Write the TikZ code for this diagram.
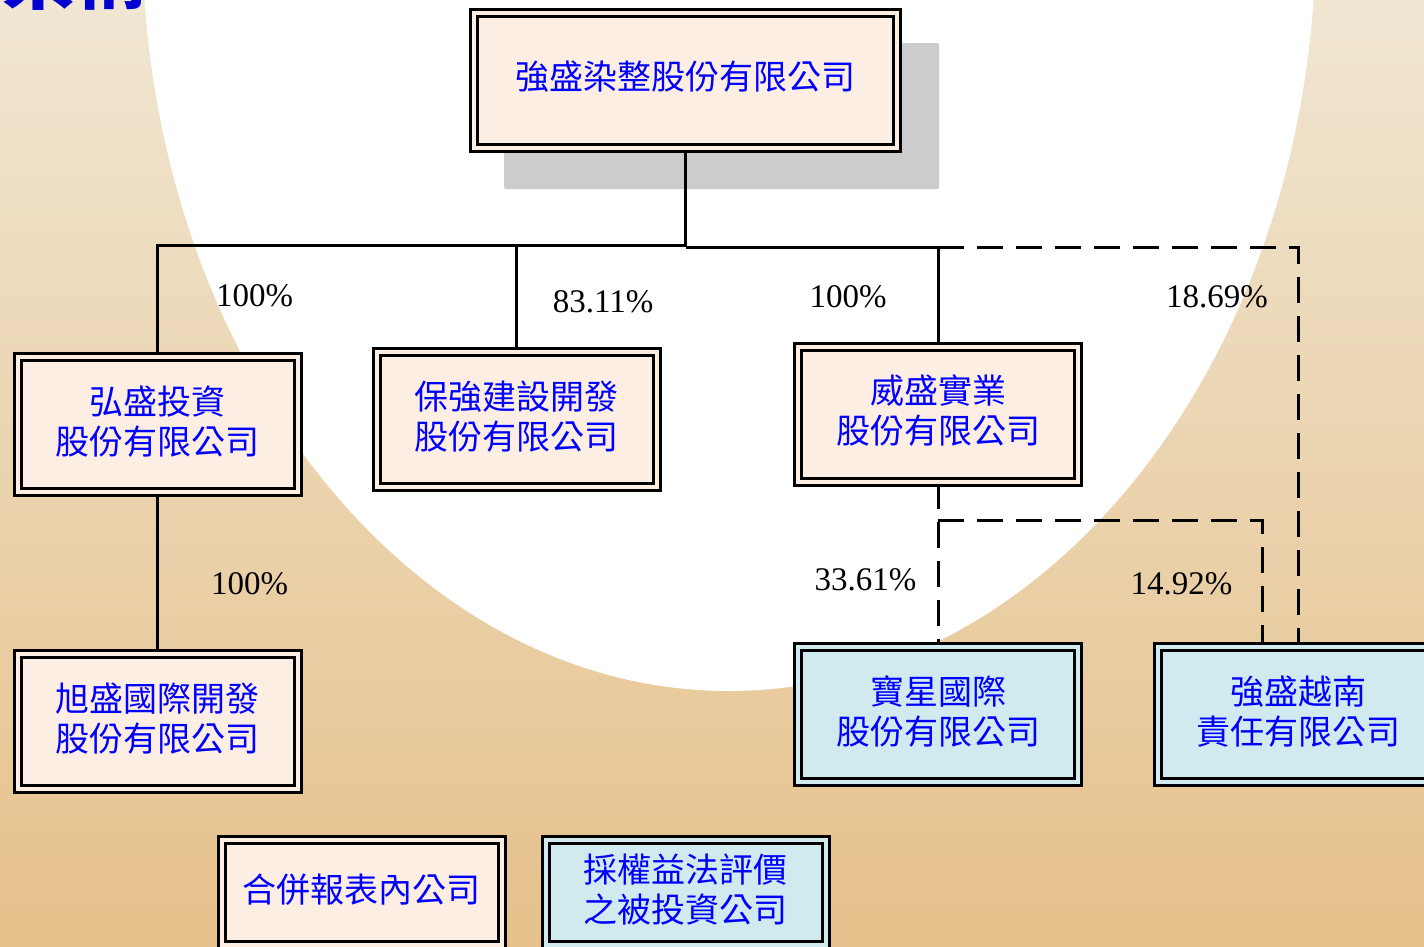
\documentclass[tikz,border=0pt]{standalone}
\usepackage{fontspec}
\setmainfont{Liberation Serif}
\newfontfamily\cjk{Noto Sans CJK TC}
\pgfdeclarelayer{back}
\pgfdeclarelayer{edges}
\pgfsetlayers{back,edges,main}
\definecolor{peach}{RGB}{253,238,227}
\definecolor{lblue}{RGB}{209,234,240}
\definecolor{bgtop}{RGB}{240,230,210}
\definecolor{bgbot}{RGB}{230,193,139}
\definecolor{shadowgray}{RGB}{204,204,204}
\definecolor{titleblue}{RGB}{0,0,210}
\begin{document}
\begin{tikzpicture}[x=1pt,y=-1pt,
  orgbox/.style={draw=black, line width=3pt, double distance=4pt, rectangle,
    minimum width=280pt, minimum height=135pt, inner sep=0pt},
  peachbox/.style={orgbox, fill=peach, double=peach},
  bluebox/.style={orgbox, fill=lblue, double=lblue},
  boxtext/.style={inner sep=0pt, align=center, text=blue,
    font=\cjk\fontsize{34}{40}\selectfont},
  conn/.style={line width=3pt, line join=miter},
  dconn/.style={conn, dash pattern=on 26pt off 13pt},
  pct/.style={anchor=base, font=\fontsize{33}{33}\selectfont, text=black, inner sep=0pt}]
\useasboundingbox (0,0) rectangle (1424,946);

% boxes
\node[peachbox, minimum width=423pt] (top) at (685.5,80.5) {};
\node[peachbox] (hs) at (157.5,424.5) {};
\node[peachbox] (bq) at (516.5,419.5) {};
\node[peachbox] (ww) at (938,414) {};
\node[peachbox] (xs) at (157.5,721.5) {};
\node[bluebox] (bx) at (938,714.5) {};
\node[bluebox] (vn) at (1298,714.5) {};
\node[peachbox, minimum height=105pt] (lg1) at (361.5,892.5) {};
\node[bluebox, minimum height=105pt] (lg2) at (685.5,892.5) {};

% box texts
\node[boxtext] (topt) at ([yshift=3.5pt]top.center) {強盛染整股份有限公司};
\node[boxtext] (hst) at ([yshift=3pt]hs.center) {弘盛投資\\股份有限公司};
\node[boxtext] (bqt) at ([yshift=3pt]bq.center) {保強建設開發\\股份有限公司};
\node[boxtext] (wwt) at ([yshift=3pt]ww.center) {威盛實業\\股份有限公司};
\node[boxtext] (xst) at ([yshift=3pt]xs.center) {旭盛國際開發\\股份有限公司};
\node[boxtext] (bxt) at ([yshift=3pt]bx.center) {寶星國際\\股份有限公司};
\node[boxtext] (vnt) at ([yshift=3pt]vn.center) {強盛越南\\責任有限公司};
\node[boxtext] (lg1t) at ([yshift=2.5pt]lg1.center) {合併報表內公司};
\node[boxtext] (lg2t) at ([yshift=3pt]lg2.center) {採權益法評價\\之被投資公司};

% title (cut off at top in the reference)
\node[anchor=base east, inner sep=0pt, text=titleblue,
      font=\cjk\bfseries\fontsize{72}{72}\selectfont] (title) at (147,3) {組織架構};

% percentages
\node[pct] (p1) at (254.5,306) {100\%};
\node[pct] (p2) at (603,312) {83.11\%};
\node[pct] (p3) at (848,307) {100\%};
\node[pct] (p4) at (1217,307) {18.69\%};
\node[pct] (p5) at (249.5,594) {100\%};
\node[pct] (p6) at (865.5,590) {33.61\%};
\node[pct] (p7) at (1181.5,594) {14.92\%};

\coordinate (busL) at (0,245);
\coordinate (busR) at (0,247);
\coordinate (mid) at (0,520);
\coordinate (vnl) at ([xshift=-36pt]vn.north);

\begin{pgfonlayer}{back}
  \shade[top color=bgtop, bottom color=bgbot] (0,0) rectangle (1424,946);
  \fill[white] (729,-70) ellipse [x radius=587pt, y radius=761pt];
  \fill[shadowgray, rounded corners=2pt] (504,43) rectangle (939,189);
\end{pgfonlayer}

\begin{pgfonlayer}{edges}
  \draw[conn] (top.south) -- (top.south |- busR);
  \draw[conn] (hs.north) -- (hs.north |- busL) -- (top.south |- busL);
  \draw[conn] (bq.north) -- (bq.north |- busL);
  \draw[conn] (top.south |- busR) -- (ww.north |- busR) -- (ww.north);
  \draw[dconn] (ww.north |- busR) -- (vn.north |- busR) -- (vn.north);
  \draw[conn] (hs.south) -- (xs.north);
  \draw[dconn] (ww.south) -- (bx.north);
  \draw[dconn] (ww.south |- mid) -| (vnl);
\end{pgfonlayer}
\end{tikzpicture}
\end{document}
